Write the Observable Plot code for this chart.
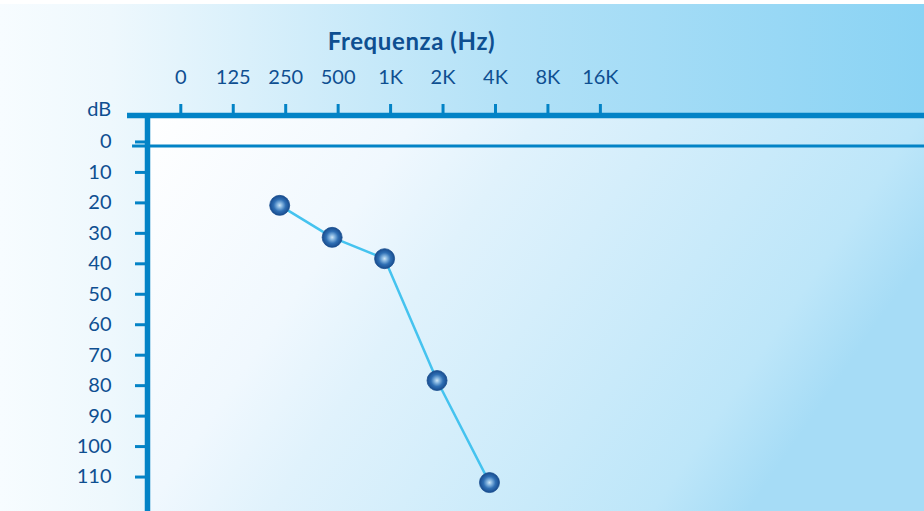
<!DOCTYPE html>
<html><head><meta charset="utf-8">
<script src="https://cdn.jsdelivr.net/npm/d3@7"></script>
<script src="https://cdn.jsdelivr.net/npm/@observablehq/plot@0.6"></script>
<style>
html,body{margin:0;padding:0;}
body{width:924px;height:511px;overflow:hidden;background:#fff;}
#chart{width:924px;height:511px;
 background:
  linear-gradient(to bottom, #ffffff 0px, #ffffff 4px, rgba(255,255,255,0) 4px),
  linear-gradient(to right, #f7fcff 0%, #eef8fd 12%, #b2e1f7 55%, #8ad3f4 100%);}
#chart svg{display:block;}
</style></head><body><div id="chart"></div>
<script>
// Frequency axis categories (tick labels)
const freqLabels = ["0", "125", "250", "500", "1K", "2K", "4K", "8K", "16K"];
// Measured audiogram points
const measuredFreqs = ["250", "500", "1K", "2K", "4K"];
const measuredDb = [19.5, 30, 37, 77, 110.5];
// dB tick values
const dbTicks = [0, 10, 20, 30, 40, 50, 60, 70, 80, 90, 100, 110];

const data = measuredFreqs.map((f, i) => ({idx: freqLabels.indexOf(f), db: measuredDb[i]}));
const freqIdx = freqLabels.map((_, i) => i);

const axisColor = "#0383c6";
const textColor = "#0e4f91";
const lineColor = "#45c3ef";
const font = "Lato, 'Noto Sans', sans-serif";

const xDomain = [-0.635, 14.18];
const yDomain = [-10, 120];

const svg = Plot.plot({
  width: 924, height: 511,
  marginLeft: 147, marginTop: 115, marginRight: 0, marginBottom: 0,
  style: {background: "transparent", fontFamily: font, overflow: "visible"},
  x: {type: "linear", domain: xDomain, axis: null},
  y: {domain: yDomain, reverse: true, axis: null},
  marks: [
    Plot.frame({fill: "url(#panelGrad)", stroke: "none"}),
    Plot.axisX(freqIdx, {anchor: "top", tickSize: 12, tickPadding: 20, tickFormat: i => freqLabels[i],
      stroke: axisColor, strokeWidth: 3, fill: textColor, fontSize: 20, label: null}),
    Plot.axisY(dbTicks, {anchor: "left", tickSize: 12, tickPadding: 24, dy: -4,
      stroke: axisColor, strokeWidth: 3, fill: textColor, fontSize: 20, label: null}),
    Plot.ruleY([0], {x1: -0.92, x2: xDomain[1], stroke: axisColor, strokeWidth: 3}),
    Plot.ruleY([yDomain[0]], {x1: -1.016, x2: xDomain[1], stroke: axisColor, strokeWidth: 5.5}),
    Plot.ruleX([xDomain[0]], {y1: yDomain[0], y2: yDomain[1], stroke: axisColor, strokeWidth: 5.5}),
    Plot.line(data, {x: "idx", y: "db", dx: -6, stroke: lineColor, strokeWidth: 2.5}),
    Plot.dot(data, {x: "idx", y: "db", dx: -6, r: 10, fill: "url(#ball)", stroke: "#1b4f8f", strokeWidth: 0.8}),
    Plot.text(["Frequenza (Hz)"], {frameAnchor: "top-left", dx: 264, dy: -73, textAnchor: "middle", lineAnchor: "middle",
      fontWeight: "bold", fontSize: 24, fill: textColor}),
    Plot.text(["dB"], {frameAnchor: "top-left", dx: -36.3, dy: -6, textAnchor: "end", lineAnchor: "middle",
      fontSize: 20, fill: textColor})
  ]
});

d3.select(svg).insert("defs", ":first-child").html(`
  <linearGradient id="panelGrad" x1="0" y1="0" x2="1" y2="0.35">
    <stop offset="0" stop-color="#ffffff"/>
    <stop offset="0.31" stop-color="#f0f8fe"/>
    <stop offset="0.45" stop-color="#e0f2fc"/>
    <stop offset="0.89" stop-color="#bde6f9"/>
    <stop offset="1" stop-color="#a6dcf6"/>
  </linearGradient>
  <radialGradient id="ball" cx="0.5" cy="0.5" r="0.5">
    <stop offset="0" stop-color="#cfe6f6"/>
    <stop offset="0.25" stop-color="#86b6e0"/>
    <stop offset="0.6" stop-color="#2f6fb4"/>
    <stop offset="1" stop-color="#174b8e"/>
  </radialGradient>`);
d3.select(svg).selectAll("text").filter(function() { return this.textContent === "Frequenza (Hz)"; })
  .style("letter-spacing", "0.6px");

document.getElementById("chart").appendChild(svg);
</script>
</body></html>
